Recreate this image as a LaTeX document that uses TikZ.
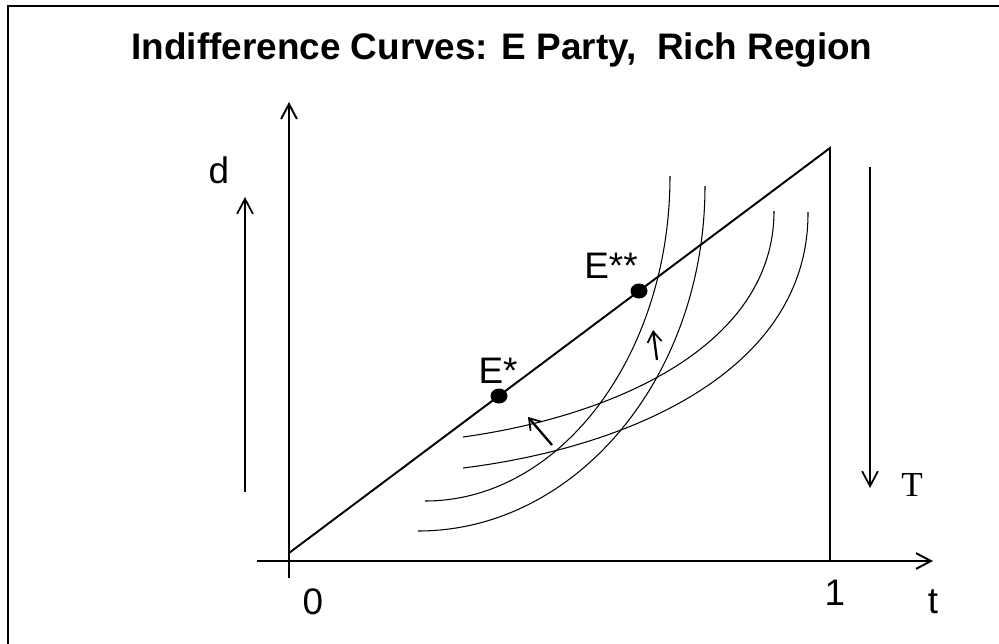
\documentclass[tikz,border=0pt]{standalone}
\usepackage{fontspec}
\setmainfont{Liberation Sans}
\newfontfamily\timesfont{Liberation Serif}
\usetikzlibrary{arrows.meta, shapes.geometric}

\begin{document}
\begin{tikzpicture}[scale=1.0,
    axis/.style={line width=1.6pt},
    guide/.style={line width=1.1pt},
    curve/.style={line width=0.6pt},
    dot/.style={ellipse, fill=black, inner sep=0pt, minimum width=0.34cm, minimum height=0.3cm},
    lbl/.style={font=\fontsize{21}{21}\selectfont}]

  \useasboundingbox (-5.78, -1.64) rectangle (14.2, 11.22);

  % frame, cut at the right and bottom
  \draw[line width=1.4pt] (-5.62, -2) -- (-5.62, 11.10) -- (15, 11.10);

  \node[font=\bfseries\fontsize{21}{21}\selectfont] (title) at (4.26, 10.22)
    {Indifference Curves: E Party,\ \ Rich Region};

  % axes
  \draw[->, >={Straight Barb[length=8.5pt, width=9pt, line width=1.1pt]}, axis] (0, -0.34) -- (0, 9.18);
  \draw[->, >={Straight Barb[length=8.5pt, width=9pt, line width=1.1pt]}, axis] (-0.64, 0) -- (12.88, 0);

  \node[lbl] (zero) at (0.48, -0.82) {0};
  \node[lbl] (one) at (10.92, -0.64) {1};
  \node[lbl] (tlbl) at (12.88, -0.82) {t};
  \node[lbl] (dlbl) at (-1.4, 7.82) {d};

  % budget line
  \draw[guide] (0, 0.16) -- (10.82, 8.26) -- (10.82, 0);

  % direction arrows
  \draw[->, >={Straight Barb[length=8.5pt, width=9pt, line width=1pt]}, guide] (-0.88, 1.38) -- (-0.88, 7.28);
  \draw[->, >={Straight Barb[length=8.5pt, width=9pt, line width=1pt]}, guide] (11.62, 7.88) -- (11.62, 1.46);
  \node[font=\timesfont\fontsize{20}{20}\selectfont] (Tlbl) at (12.46, 1.52) {T};

  % indifference curves
  \draw[curve] (7.62, 7.70) arc[start angle=0, end angle=-90, x radius=4.9, y radius=6.5];
  \draw[curve] (8.32, 7.50) arc[start angle=0, end angle=-90, x radius=5.74, y radius=6.9];
  \draw[curve] (3.48, 2.48) .. controls (6.5, 2.9) and (9.7, 4.3) .. (9.7, 7.0);
  \draw[curve] (3.48, 1.86) .. controls (7.0, 2.3) and (10.4, 3.9) .. (10.38, 6.98);

  % shifts
  \draw[->, >={Straight Barb[length=6pt, width=8pt, line width=1pt]}, line width=1.3pt] (5.26, 2.32) -- (4.78, 2.88);
  \draw[->, >={Straight Barb[length=6pt, width=8pt, line width=1pt]}, line width=1.3pt] (7.36, 4.02) -- (7.28, 4.62);

  % equilibria
  \node[dot] (Estar) at (4.2, 3.30) {};
  \node[dot] (Estarstar) at (7.0, 5.40) {};
  \node[lbl] (Estarlbl) at (4.18, 3.80) {E*};
  \node[lbl] (Estarstarlbl) at (6.44, 5.90) {E**};

\end{tikzpicture}
\end{document}
